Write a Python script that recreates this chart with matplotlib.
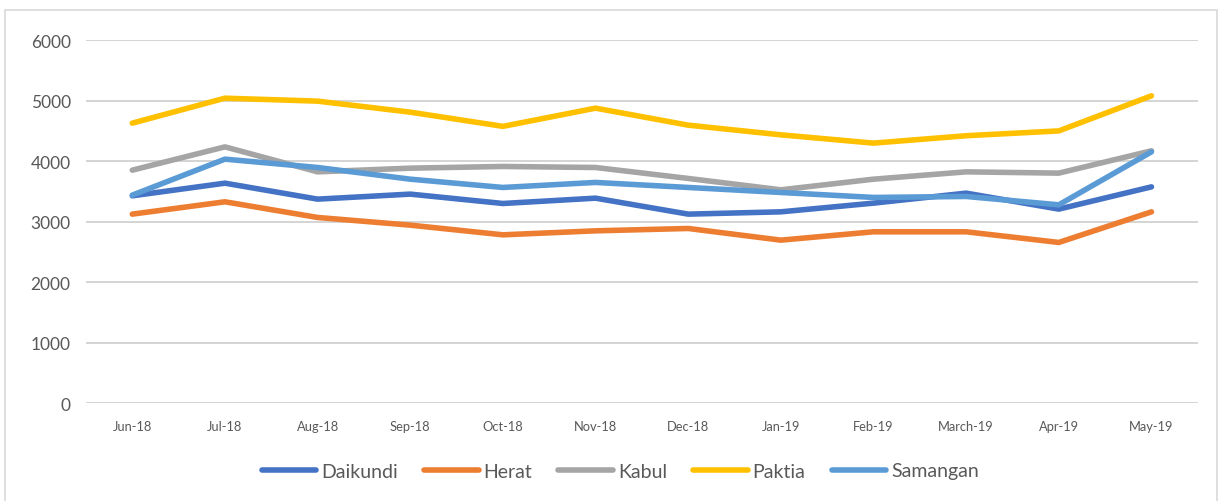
import matplotlib.pyplot as plt
from matplotlib.patches import Rectangle

#-----------------DATA-----------------
months = ['Jun-18', 'Jul-18', 'Aug-18', 'Sep-18', 'Oct-18', 'Nov-18',
          'Dec-18', 'Jan-19', 'Feb-19', 'March-19', 'Apr-19', 'May-19']
daikundi = [3427, 3636, 3372, 3455, 3300, 3388, 3124, 3162, 3306, 3471, 3207, 3575]
herat = [3124, 3328, 3069, 2942, 2782, 2848, 2887, 2694, 2832, 2832, 2656, 3162]
kabul = [3851, 4236, 3823, 3884, 3912, 3895, 3714, 3526, 3702, 3823, 3802, 4171]
paktia = [4628, 5041, 4992, 4810, 4575, 4876, 4595, 4435, 4298, 4420, 4500, 5080]
samangan = [3438, 4033, 3895, 3702, 3565, 3648, 3565, 3482, 3400, 3416, 3278, 4154]

series = [('Daikundi', daikundi, '#4472C4'),
          ('Herat', herat, '#ED7D31'),
          ('Kabul', kabul, '#A5A5A5'),
          ('Paktia', paktia, '#FFC000'),
          ('Samangan', samangan, '#5B9BD5')]

#-----------------GRAPH-----------------
plt.rcParams['font.family'] = ['Lato', 'DejaVu Sans']

fig = plt.figure(figsize=(12.21, 5.02), dpi=100)
ax = fig.add_axes([0.0704, 0.195, 0.9106, 0.723])

# outer chart border
fig.patches.append(Rectangle((0.004, -0.05), 0.993, 1.028, transform=fig.transFigure,
                             fill=False, edgecolor='#D9D9D9', linewidth=1.2))

x = range(len(months))
for name, vals, col in series:
    ax.plot(x, vals, color=col, linewidth=4, solid_capstyle='round',
            solid_joinstyle='round', label=name)

ax.set_xlim(-0.5, len(months) - 0.5)
ax.set_ylim(0, 6000)
ax.set_yticks(range(0, 6001, 1000))
ax.set_xticks(list(x))
ax.set_xticklabels(months)
ax.grid(axis='y', color='#D4D4D4', linewidth=1.4)
ax.set_axisbelow(True)
for s in ax.spines.values():
    s.set_visible(False)
ax.tick_params(axis='both', length=0, colors='#595959')
ax.tick_params(axis='y', labelsize=12.5, pad=11)
ax.tick_params(axis='x', labelsize=9.3, pad=12)

fig.legend(loc='center', bbox_to_anchor=(0.508, 1 - 472 / 502), ncol=5, frameon=False,
           fontsize=14, handlelength=2.8, handletextpad=0.25, columnspacing=1.35,
           labelcolor='#595959')

fig.savefig('out.png', dpi=100)
